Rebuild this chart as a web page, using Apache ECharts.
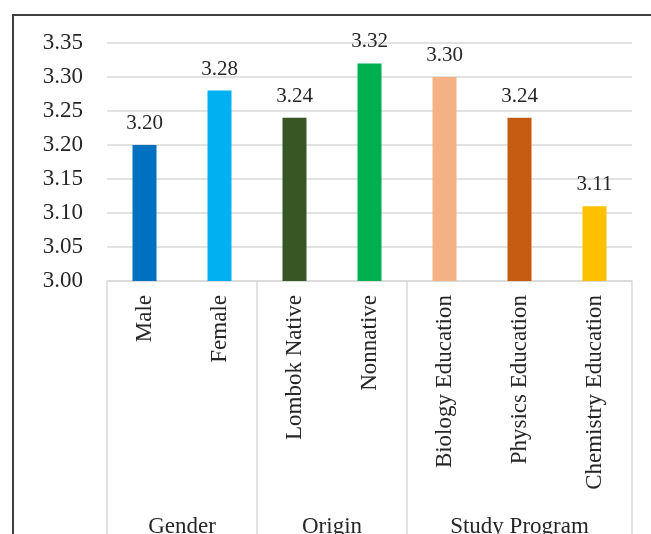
<!DOCTYPE html>
<html>
<head>
<meta charset="utf-8">
<title>Scores by group</title>
<script src="https://cdn.jsdelivr.net/npm/echarts@6/dist/echarts.min.js"></script>
<style>
  html, body { margin: 0; padding: 0; background: #fff; }
  #frame {
    position: absolute; left: 12px; top: 14px; right: 0; bottom: 0;
    border-left: 2px solid #3f3f3f; border-top: 2px solid #3f3f3f;
  }
  #chart { position: absolute; left: 0; top: 0; width: 651px; height: 534px; }
</style>
</head>
<body>
<div id="frame"></div>
<div id="chart"></div>
<script>
// Mean scores per respondent category
const categories = ['Male', 'Female', 'Lombok Native', 'Nonnative',
  'Biology Education', 'Physics Education', 'Chemistry Education'];
const scores = [3.20, 3.28, 3.24, 3.32, 3.30, 3.24, 3.11];
const barColors = ['#0070C0', '#00B0F0', '#375623', '#00B050', '#F4B183', '#C55A11', '#FFC000'];

// Grouping of the categories along the x axis
const groupNames = ['Gender', 'Origin', 'Study Program'];
const groupSizes = [2, 2, 3];

// Value axis range
const yMin = 3.00;
const yMax = 3.35;
const yStep = 0.05;

// The group axis runs on half-category slots so that group edges and
// group centres both land on slot positions.
const slotCount = categories.length * 2 + 1;
const groupEdges = [0];
const groupCentres = [];
groupSizes.forEach(function (n) {
  const start = groupEdges[groupEdges.length - 1];
  groupCentres.push(start + n);
  groupEdges.push(start + n * 2);
});
const groupSlots = [];
for (let i = 0; i < slotCount; i++) {
  const g = groupCentres.indexOf(i);
  groupSlots.push(g >= 0 ? groupNames[g] : '');
}

const textColor = '#262626';
const lineColor = '#d9d9d9';
const serif = '"Liberation Serif", "DejaVu Serif", serif';

const chart = echarts.init(document.getElementById('chart'), null, { renderer: 'canvas' });
chart.setOption({
  backgroundColor: 'transparent',
  animation: false,
  grid: {
    left: 107, right: 19, top: 43, bottom: 253,
    containLabel: false,
    outerBoundsMode: 'none'
  },
  xAxis: [
    {
      type: 'category',
      position: 'bottom',
      data: categories,
      axisLine: { show: true, lineStyle: { color: lineColor, width: 1.5 } },
      axisTick: { show: false },
      axisLabel: {
        rotate: 90,
        margin: 14,
        interval: 0,
        color: textColor,
        fontFamily: serif,
        fontSize: 23
      }
    },
    {
      type: 'category',
      position: 'bottom',
      boundaryGap: false,
      data: groupSlots,
      axisLine: { show: false },
      axisTick: {
        show: true,
        length: 270,
        interval: function (index) { return groupEdges.indexOf(index) >= 0; },
        lineStyle: { color: lineColor, width: 1.5 }
      },
      axisLabel: {
        margin: 234,
        interval: function (index) { return groupCentres.indexOf(index) >= 0; },
        color: textColor,
        fontFamily: serif,
        fontSize: 23
      },
      splitLine: { show: false }
    }
  ],
  yAxis: {
    type: 'value',
    min: yMin,
    max: yMax,
    interval: yStep,
    axisLine: { show: false },
    axisTick: { show: false },
    axisLabel: {
      margin: 24,
      color: textColor,
      fontFamily: serif,
      fontSize: 23,
      formatter: function (v) { return v.toFixed(2); }
    },
    splitLine: { lineStyle: { color: lineColor, width: 1.5 } }
  },
  series: [{
    type: 'bar',
    xAxisIndex: 0,
    barWidth: 24,
    data: scores.map(function (v, i) {
      return { value: v, itemStyle: { color: barColors[i] } };
    }),
    label: {
      show: true,
      position: 'top',
      distance: 11,
      color: textColor,
      fontFamily: serif,
      fontSize: 21,
      formatter: function (p) { return p.value.toFixed(2); }
    }
  }]
});
</script>
</body>
</html>
